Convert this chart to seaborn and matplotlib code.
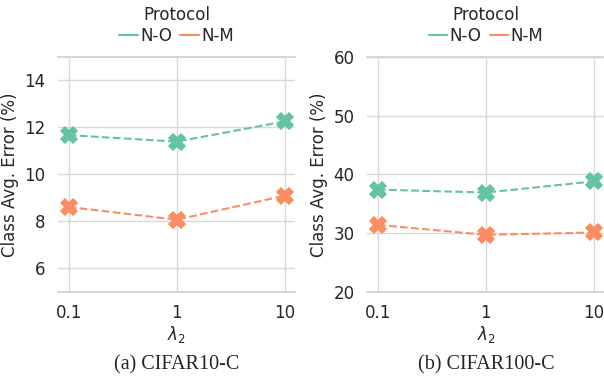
import matplotlib
matplotlib.use("Agg")
import matplotlib.pyplot as plt
import seaborn as sns
import pandas as pd
from matplotlib.lines import Line2D

lambdas = ["0.1", "1", "10"]
protocols = ["N-O", "N-M"]
c10_no = [11.67, 11.39, 12.25]
c10_nm = [8.61, 8.07, 9.09]
c100_no = [37.4, 36.9, 38.8]
c100_nm = [31.4, 29.7, 30.1]

sns.set_theme(style="whitegrid")
plt.rcParams['font.family'] = ['DejaVu Sans']
plt.rcParams['font.sans-serif'] = ['DejaVu Sans']

colors = sns.color_palette("Set2", 2)

def make_df(no, nm):
    rows = []
    for lam, v in zip(lambdas, no):
        rows.append({"lambda": lam, "err": v, "Protocol": "N-O"})
    for lam, v in zip(lambdas, nm):
        rows.append({"lambda": lam, "err": v, "Protocol": "N-M"})
    return pd.DataFrame(rows)

fig = plt.figure(figsize=(6.04, 3.79), dpi=100)
ax1 = fig.add_axes([0.096, 0.230, 0.393, 0.620])
ax2 = fig.add_axes([0.608, 0.230, 0.393, 0.620])

panels = [
    (ax1, make_df(c10_no, c10_nm), (5, 15), [6, 8, 10, 12, 14], "(a) CIFAR10-C"),
    (ax2, make_df(c100_no, c100_nm), (20, 60), [20, 30, 40, 50, 60], "(b) CIFAR100-C"),
]

for ax, df, ylim, yticks, cap in panels:
    sns.pointplot(data=df, x="lambda", y="err", hue="Protocol", order=lambdas,
                  hue_order=protocols, palette=colors, markers="X", linestyles="--",
                  markersize=11, linewidth=1.5, ax=ax, legend=False)
    ax.set_ylim(*ylim)
    ax.set_yticks(yticks)
    ax.set_xlim(-0.1, 2.1)
    ax.set_xlabel(r"$\lambda_2$", fontsize=12, labelpad=1)
    ax.set_ylabel("Class Avg. Error (%)", fontsize=12, family="DejaVu Sans")
    ax.tick_params(axis="both", labelsize=12, pad=3)
    for lbl in ax.get_xticklabels() + ax.get_yticklabels():
        lbl.set_family("DejaVu Sans")
    ax.grid(True, axis="both", color="#d9d9d9", linewidth=1)
    for s in ["left", "right"]:
        ax.spines[s].set_visible(False)
    for s in ["top", "bottom"]:
        ax.spines[s].set_color("#d0d0d0")
    handles = [Line2D([0], [0], color=colors[0], lw=1.5),
               Line2D([0], [0], color=colors[1], lw=1.5)]
    leg = ax.legend(handles, protocols, title="Protocol", ncol=2, frameon=False,
                    loc="lower center", bbox_to_anchor=(0.5, 1.0),
                    prop={"family": "DejaVu Sans", "size": 12},
                    title_fontproperties={"family": "DejaVu Sans", "size": 12},
                    handlelength=1.1, handletextpad=0.15,
                    columnspacing=0.5, borderaxespad=0.5, borderpad=0.2,
                    labelspacing=0.2)
    ax.text(0.5, -0.27, cap, transform=ax.transAxes, ha="center", va="top",
            fontsize=14.5, family="Liberation Serif")

fig.savefig("out.png", dpi=100)
